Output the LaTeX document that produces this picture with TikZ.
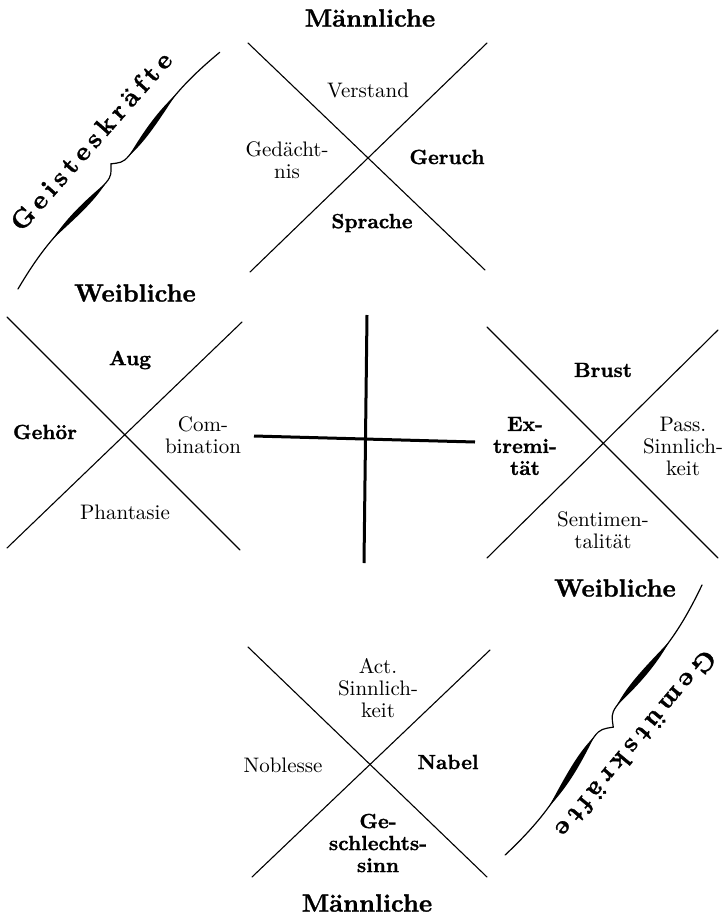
\documentclass[tikz,border=0pt]{standalone}
\usepackage{fontspec}
\setmainfont{lmroman10-regular}[Extension=.otf, BoldFont=lmroman10-bold, ItalicFont=lmroman10-italic, BoldItalicFont=lmroman10-bolditalic, BoldFeatures={FakeBold=1.2}]
\newcommand\gspa{\kern4.8pt}
\newcommand\gspb{\kern5.1pt}
\begin{document}
\begin{tikzpicture}[x=1pt,y=-1pt,
  xline/.style={line width=1.1pt, line cap=round},
  crossline/.style={line width=3pt},
  lab/.style={inner sep=0pt, align=center, font=\fontsize{21}{22}\selectfont},
  blab/.style={inner sep=0pt, align=center, font=\fontsize{20.5}{22}\selectfont\bfseries},
  head/.style={inner sep=0pt, font=\fontsize{25}{28}\selectfont\bfseries},
  brtext/.style={inner sep=0pt, font=\fontsize{26}{28}\selectfont\bfseries},
  bracefill/.style={fill=black, draw=none},
  bracestroke/.style={line width=1.2pt, line cap=round}]
\useasboundingbox (0,0) rectangle (725,916);

% ---------- X crossings ----------
% top
\coordinate (ta1) at (248,43);  \coordinate (ta2) at (485,270);
\coordinate (tb1) at (487,43);  \coordinate (tb2) at (250,272);
\draw[xline] (ta1) -- (ta2); \draw[xline] (tb1) -- (tb2);
% left
\coordinate (la1) at (7,317);   \coordinate (la2) at (240,550);
\coordinate (lb1) at (242,322); \coordinate (lb2) at (7,548);
\draw[xline] (la1) -- (la2); \draw[xline] (lb1) -- (lb2);
% right
\coordinate (ra1) at (487,327); \coordinate (ra2) at (718,558);
\coordinate (rb1) at (718,330); \coordinate (rb2) at (487,558);
\draw[xline] (ra1) -- (ra2); \draw[xline] (rb1) -- (rb2);
% bottom
\coordinate (ba1) at (248,647); \coordinate (ba2) at (487,877);
\coordinate (bb1) at (490,650); \coordinate (bb2) at (252,877);
\draw[xline] (ba1) -- (ba2); \draw[xline] (bb1) -- (bb2);

% ---------- central cross ----------
\coordinate (cv1) at (367,315); \coordinate (cv2) at (364,563);
\coordinate (ch1) at (254,436); \coordinate (ch2) at (475,442);
\draw[crossline] (cv1) -- (cv2);
\draw[crossline] (ch1) -- (ch2);

% ---------- headings ----------
\node[head] (mtop) at (370,18) {Männliche};
\node[head] (wleft) at (135,293) {Weibliche};
\node[head] (wright) at (615,588) {Weibliche};
\node[head] (mbot) at (367,903) {Männliche};

% ---------- top X labels ----------
\node[lab]  (verstand) at (368,90) {Verstand};
\node[lab]  (gedaecht) at (287,160) {Gedächt-\\nis};
\node[blab] (geruch) at (447,157) {Geruch};
\node[blab] (sprache) at (372,223) {Sprache};

% ---------- left X labels ----------
\node[blab] (aug) at (130,360) {Aug};
\node[blab] (gehoer) at (45,432) {Gehör};
\node[lab]  (comb) at (203,435) {Com-\\bination};
\node[lab]  (phant) at (125,512) {Phantasie};

% ---------- right X labels ----------
\node[blab] (brust) at (603,370) {Brust};
\node[blab] (extrem) at (525,446) {Ex-\\tremi-\\tät};
\node[lab]  (pass) at (683,446) {Pass.\\Sinnlich-\\keit};
\node[lab]  (sentim) at (603,530) {Sentimen-\\talität};

% ---------- bottom X labels ----------
\node[lab]  (act) at (378,688) {Act.\\Sinnlich-\\keit};
\node[lab]  (nobl) at (283,765) {Noblesse};
\node[blab] (nabel) at (448,762) {Nabel};
\node[blab] (geschl) at (378,843) {Ge-\\schlechts-\\sinn};

% ---------- braces ----------
\def\bracedraw{%
  \draw[bracestroke] (0,0) .. controls (20,3.5) and (40,6) .. (60,6)
     .. controls (90,6) and (115,2) .. (138,2)
     .. controls (147,2) and (149,4.5) .. (155.5,10.5)
     .. controls (162,4.5) and (164,2) .. (173,2)
     .. controls (196,2) and (221,6) .. (251,6)
     .. controls (271,6) and (291,3.5) .. (311,0);
  \fill[bracefill] (60,6) .. controls (90,9.5) and (115,5.5) .. (138,2)
     .. controls (115,-1.5) and (90,2.5) .. (60,6) -- cycle;
  \fill[bracefill] (173,2) .. controls (196,5.5) and (221,9.5) .. (251,6)
     .. controls (221,2.5) and (196,-1.5) .. (173,2) -- cycle;
}
\begin{scope}[shift={(18,289)}, rotate=49.56, x=1pt, y=1pt]
  \bracedraw
\end{scope}
\begin{scope}[shift={(702,585)}, rotate=-126.1, x=1.0746pt, y=1.15pt]
  \bracedraw
\end{scope}

\node[brtext, rotate=48.5] (geist) at (91,141)
  {G\gspa e\gspa i\gspa s\gspa t\gspa e\gspa s\gspa k\gspa r\gspa ä\gspa f\gspa t\gspa e};
\node[brtext, rotate=-129.8] (gemuet) at (636,744)
  {G\gspb e\gspb m\gspb ü\gspb t\gspb s\gspb k\gspb r\gspb ä\gspb f\gspb t\gspb e};
\end{tikzpicture}
\end{document}
